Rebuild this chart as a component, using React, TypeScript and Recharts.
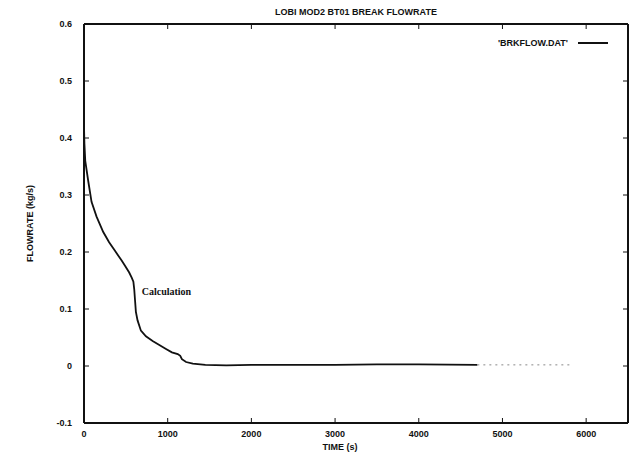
import { Legend, Line, LineChart, ReferenceDot, XAxis, YAxis } from 'recharts';

// break flowrate
const times = [0, 5, 15, 50, 90, 150, 230, 300, 370, 450, 490, 540, 570, 590, 600, 610, 620, 640, 680, 740, 820, 900, 980, 1050, 1120, 1150, 1170, 1220, 1300, 1450, 1700, 2000, 2500, 3000, 3500, 4000, 4700];
const flow = [0.42, 0.39, 0.36, 0.325, 0.288, 0.262, 0.235, 0.217, 0.202, 0.185, 0.176, 0.164, 0.155, 0.148, 0.135, 0.115, 0.095, 0.08, 0.062, 0.052, 0.044, 0.037, 0.03, 0.024, 0.021, 0.018, 0.012, 0.007, 0.004, 0.002, 0.001, 0.002, 0.002, 0.002, 0.003, 0.003, 0.002];
// faint dotted end of the trace
const tailTimes = [4700, 5800];
const tailFlow = [0.002, 0.002];

const xTicks = [0, 1000, 2000, 3000, 4000, 5000, 6000];
const yTicks = [-0.1, 0, 0.1, 0.2, 0.3, 0.4, 0.5, 0.6];

const mainData = times.map((t, i) => ({ t, v: flow[i] }));
const tailData = tailTimes.map((t, i) => ({ t, v: tailFlow[i] }));

const FONT = '"Liberation Sans", Arial, sans-serif';
const tickStyle = { fontSize: 9, fontWeight: 700, fill: '#111', fontFamily: FONT };

function LegendBox() {
  return (
    <div style={{ display: 'flex', alignItems: 'center', fontFamily: FONT, fontSize: 9, fontWeight: 700, color: '#111' }}>
      <span>'BRKFLOW.DAT'</span>
      <svg width={36} height={6} style={{ marginLeft: 6 }}>
        <line x1={4} y1={3} x2={34} y2={3} stroke="#111" strokeWidth={2} />
      </svg>
    </div>
  );
}

export default function App() {
  return (
    <div style={{ position: 'absolute', left: 0, top: 0, background: '#fff' }}>
      <LineChart width={639} height={463} margin={{ top: 23, right: 10, bottom: 20, left: 24 }}>
        <XAxis
          dataKey="t"
          type="number"
          domain={[0, 6500]}
          ticks={xTicks}
          allowDataOverflow
          height={20}
          tickSize={-5}
          tickMargin={13}
          tick={tickStyle}
          axisLine={{ stroke: '#111', strokeWidth: 2 }}
          tickLine={{ stroke: '#111' }}
          label={{ value: 'TIME (s)', position: 'bottom', offset: 1, dx: -16, style: { ...tickStyle } }}
        />
        <XAxis
          xAxisId="top"
          dataKey="t"
          type="number"
          orientation="top"
          domain={[0, 6500]}
          ticks={xTicks}
          allowDataOverflow
          height={1}
          tickSize={-5}
          tickFormatter={() => ''}
          axisLine={{ stroke: '#111', strokeWidth: 2 }}
          tickLine={{ stroke: '#111' }}
          label={{ value: 'LOBI MOD2 BT01  BREAK FLOWRATE', position: 'top', offset: 8, style: { ...tickStyle } }}
        />
        <YAxis
          type="number"
          domain={[-0.1, 0.6]}
          ticks={yTicks}
          allowDataOverflow
          width={60}
          tickSize={-5}
          tickMargin={17}
          tick={tickStyle}
          tickFormatter={(v: number) => (Math.abs(v) < 1e-9 ? '0' : String(Math.round(v * 10) / 10))}
          axisLine={{ stroke: '#111', strokeWidth: 2 }}
          tickLine={{ stroke: '#111' }}
          label={{ value: 'FLOWRATE (kg/s)', angle: -90, position: 'center', dx: -24, style: { ...tickStyle } }}
        />
        <YAxis
          yAxisId="right"
          type="number"
          orientation="right"
          domain={[-0.1, 0.6]}
          ticks={yTicks}
          allowDataOverflow
          width={1}
          tickSize={-5}
          tickFormatter={() => ''}
          axisLine={{ stroke: '#111', strokeWidth: 2 }}
          tickLine={{ stroke: '#111' }}
        />
        <Legend
          verticalAlign="middle"
          align="center"
          layout="horizontal"
          content={() => <LegendBox />}
          wrapperStyle={{ top: 38, right: 29, left: 'auto', width: 'auto' }}
        />
        <Line
          data={mainData}
          dataKey="v"
          name="'BRKFLOW.DAT'"
          type="linear"
          stroke="#111"
          strokeWidth={1.8}
          dot={false}
          isAnimationActive={false}
        />
        <Line
          data={tailData}
          xAxisId="top"
          yAxisId="right"
          dataKey="v"
          type="linear"
          stroke="#888"
          strokeWidth={1}
          strokeDasharray="2 4"
          dot={false}
          legendType="none"
          isAnimationActive={false}
        />
        <ReferenceDot
          x={690}
          y={0.131}
          r={0}
          fill="none"
          stroke="none"
          label={{
            value: 'Calculation',
            position: 'right',
            offset: 0,
            style: { fontSize: 10, fontWeight: 700, fill: '#111', fontFamily: '"Liberation Serif", "DejaVu Serif", serif' },
          }}
        />
      </LineChart>
    </div>
  );
}
